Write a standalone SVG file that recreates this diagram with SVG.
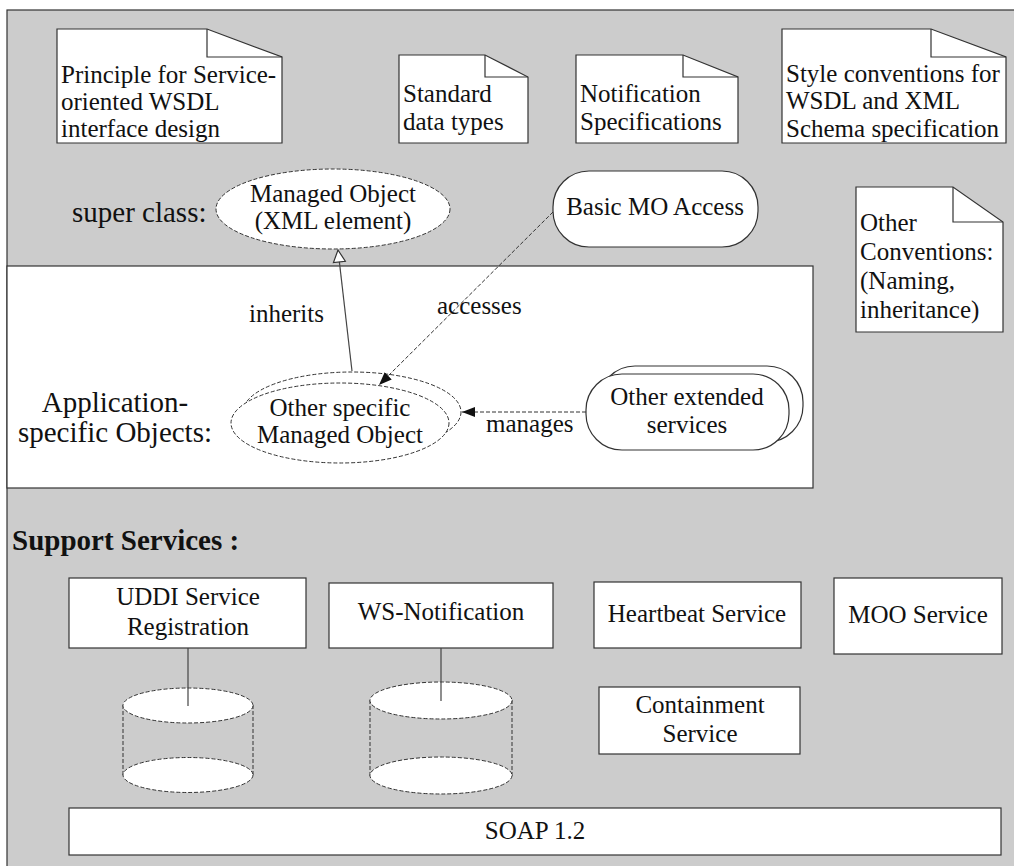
<svg xmlns="http://www.w3.org/2000/svg" width="1014" height="866" viewBox="0 0 1014 866">
<style>
text{font-family:"Liberation Serif","Times New Roman",serif;font-size:25px;fill:#111}
.big{font-size:29px}
.bold{font-weight:bold}
.mid{text-anchor:middle}
.shape{fill:#fff;stroke:#333;stroke-width:1.2}
.dash{fill:#fff;stroke:#333;stroke-width:1;stroke-dasharray:4 2}
.dashline{fill:none;stroke:#333;stroke-width:1;stroke-dasharray:4 2}
.fold{fill:none;stroke:#333;stroke-width:1.2}
.conn{fill:none;stroke:#444;stroke-width:1.2}
</style>
<defs>
<marker id="hollow" markerUnits="userSpaceOnUse" markerWidth="16" markerHeight="16" refX="13" refY="7" orient="auto" viewBox="0 0 16 14">
<path d="M1,1 L13,7 L1,13 Z" fill="#fff" stroke="#333" stroke-width="1.2"/>
</marker>
<marker id="filled" markerUnits="userSpaceOnUse" markerWidth="14" markerHeight="12" refX="13" refY="5" orient="auto" viewBox="0 0 14 10">
<path d="M0,0 L13,5 L0,10 Z" fill="#111"/>
</marker>
</defs>

<g id="frame">
<rect x="7" y="10" width="1020" height="870" fill="#cccccc" stroke="#333" stroke-width="1.2"/>
<rect x="7" y="266" width="806" height="222" fill="#fff" stroke="#333" stroke-width="1.2"/>
</g>

<g id="note-principle">
<path class="shape" d="M57,29 L207,29 L282,57 L282,143 L57,143 Z"/>
<path class="fold" d="M207,29 L207,57 L282,57"/>
<text x="61" y="83">Principle for Service-</text>
<text x="61" y="110">oriented WSDL</text>
<text x="61" y="137">interface design</text>
</g>

<g id="note-datatypes">
<path class="shape" d="M399,55 L485,55 L528,77 L528,143 L399,143 Z"/>
<path class="fold" d="M485,55 L485,77 L528,77"/>
<text x="403" y="102">Standard</text>
<text x="403" y="130">data types</text>
</g>

<g id="note-notification">
<path class="shape" d="M576,55 L683,55 L738,77 L738,143 L576,143 Z"/>
<path class="fold" d="M683,55 L683,77 L738,77"/>
<text x="580" y="102">Notification</text>
<text x="580" y="130">Specifications</text>
</g>

<g id="note-style">
<path class="shape" d="M782,29 L931,29 L1006,57 L1006,143 L782,143 Z"/>
<path class="fold" d="M931,29 L931,57 L1006,57"/>
<text x="786" y="82">Style conventions for</text>
<text x="786" y="109">WSDL and XML</text>
<text x="786" y="137">Schema specification</text>
</g>

<g id="note-other">
<path class="shape" d="M856,187 L953,187 L1003,222 L1003,332 L856,332 Z"/>
<path class="fold" d="M953,187 L953,222 L1003,222"/>
<text x="860" y="231">Other</text>
<text x="860" y="260">Conventions:</text>
<text x="860" y="289">(Naming,</text>
<text x="860" y="318">inheritance)</text>
</g>

<g id="label-superclass">
<text class="big" x="72" y="222">super class:</text>
</g>

<g id="managed-object">
<ellipse class="dash" cx="333" cy="209" rx="117" ry="40"/>
<text class="mid" x="333" y="202">Managed Object</text>
<text class="mid" x="333" y="229">(XML element)</text>
</g>

<g id="basic-mo-access">
<rect class="shape" x="553" y="171" width="205" height="76" rx="36" ry="36"/>
<text class="mid" x="655" y="215">Basic MO Access</text>
</g>

<g id="label-appobjects">
<text class="big mid" x="115" y="412">Application-</text>
<text class="big mid" x="115" y="442">specific Objects:</text>
</g>

<g id="other-specific-mo">
<ellipse class="dash" cx="352" cy="412" rx="109" ry="40"/>
<ellipse class="dash" cx="340" cy="423" rx="109" ry="40"/>
<text class="mid" x="340" y="416">Other specific</text>
<text class="mid" x="340" y="443">Managed Object</text>
</g>

<g id="other-extended">
<rect class="shape" x="599" y="366" width="204" height="76" rx="36" ry="36"/>
<rect class="shape" x="586" y="374" width="203" height="76" rx="36" ry="36"/>
<text class="mid" x="687" y="405">Other extended</text>
<text class="mid" x="687" y="433">services</text>
</g>

<g id="label-support">
<text class="big bold" x="12" y="550">Support Services :</text>
</g>

<g id="uddi">
<rect class="shape" x="69" y="578" width="237" height="70"/>
<text class="mid" x="188" y="605">UDDI Service</text>
<text class="mid" x="188" y="635">Registration</text>
</g>

<g id="uddi-db">
<line class="dashline" x1="123" y1="705" x2="123" y2="775"/>
<line class="dashline" x1="253" y1="705" x2="253" y2="775"/>
<ellipse class="dash" cx="188" cy="775" rx="65" ry="17.5"/>
<ellipse class="dash" cx="188" cy="705.5" rx="65" ry="17.5"/>
</g>

<g id="wsn">
<rect class="shape" x="329" y="583" width="224" height="65"/>
<text class="mid" x="441" y="620">WS-Notification</text>
</g>

<g id="wsn-db">
<line class="dashline" x1="370" y1="700" x2="370" y2="776"/>
<line class="dashline" x1="512" y1="700" x2="512" y2="776"/>
<ellipse class="dash" cx="441" cy="775.5" rx="71" ry="18.5"/>
<ellipse class="dash" cx="441" cy="700.5" rx="71" ry="18.5"/>
</g>

<g id="heartbeat">
<rect class="shape" x="594" y="582" width="207" height="66"/>
<text class="mid" x="697" y="622">Heartbeat Service</text>
</g>

<g id="moo">
<rect class="shape" x="834" y="578" width="168" height="76"/>
<text class="mid" x="918" y="623">MOO Service</text>
</g>

<g id="containment">
<rect class="shape" x="599" y="687" width="201" height="67"/>
<text class="mid" x="700" y="713">Containment</text>
<text class="mid" x="700" y="742">Service</text>
</g>

<g id="soap">
<rect class="shape" x="69" y="808" width="932" height="47"/>
<text class="mid" x="535" y="839">SOAP 1.2</text>
</g>

<g id="connectors">
<line class="conn" x1="352" y1="371" x2="338" y2="250" marker-end="url(#hollow)"/>
<text x="249" y="322">inherits</text>
<line class="dashline" x1="553" y1="212" x2="379" y2="385" marker-end="url(#filled)"/>
<text x="437" y="314">accesses</text>
<line class="dashline" x1="586" y1="412" x2="462" y2="412" marker-end="url(#filled)"/>
<text x="486" y="432">manages</text>
<line class="conn" x1="188" y1="648" x2="188" y2="706"/>
<line class="conn" x1="441" y1="648" x2="441" y2="701"/>
</g>
</svg>
